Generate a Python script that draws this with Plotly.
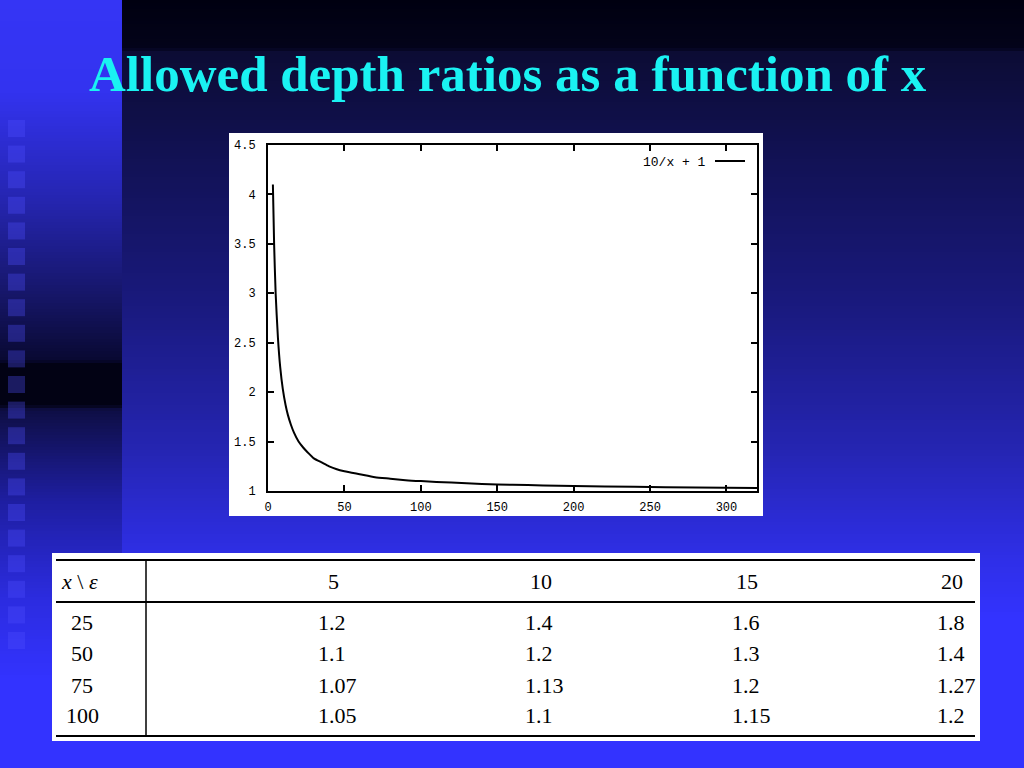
import plotly.graph_objects as go

W, H = 1024, 768

# ---------------- data ----------------
title_text = "Allowed depth ratios as a function of x"

# curve "10/x + 1"
curve_x = [3.2, 4.0, 5.0, 6.5, 8.0, 9.7, 11.5, 13.0, 15.0, 17.0, 20.0, 23.0, 26.0,
           30.0, 35.0, 40.0, 45.0, 50.0, 60.0, 70.0, 80.0, 90.0, 100.0, 120.0,
           140.0, 160.0, 180.0, 200.0, 240.0, 280.0, 320.0]
curve_y = [4.10, 3.50, 3.00, 2.55, 2.25, 2.03, 1.87, 1.77, 1.67, 1.59, 1.50, 1.44,
           1.39, 1.33, 1.29, 1.25, 1.22, 1.20, 1.17, 1.14, 1.125, 1.11, 1.10, 1.085,
           1.07, 1.063, 1.056, 1.05, 1.042, 1.036, 1.031]
legend_label = "10/x + 1"

x_ticks = [0, 50, 100, 150, 200, 250, 300]
y_ticks = [1, 1.5, 2, 2.5, 3, 3.5, 4, 4.5]
y_tick_text = ["1", "1.5", "2", "2.5", "3", "3.5", "4", "4.5"]
x_range = [0, 320]
y_range = [1, 4.5]

# table
eps_values = ["5", "10", "15", "20"]
x_values = ["25", "50", "75", "100"]
ratio_rows = [
    ["1.2", "1.4", "1.6", "1.8"],
    ["1.1", "1.2", "1.3", "1.4"],
    ["1.07", "1.13", "1.2", "1.27"],
    ["1.05", "1.1", "1.15", "1.2"],
]

# ---------------- helpers ----------------
def fx(p):
    return p / W


def fy(p):
    return 1 - p / H


def interp(stops, y):
    for (y0, c0), (y1, c1) in zip(stops[:-1], stops[1:]):
        if y0 <= y <= y1:
            t = 0 if y1 == y0 else (y - y0) / (y1 - y0)
            return "rgb(%d,%d,%d)" % tuple(round(a + (b - a) * t) for a, b in zip(c0, c1))
    return "rgb(%d,%d,%d)" % stops[-1][1]


right_stops = [(0, (0, 0, 16)), (48, (3, 3, 26)), (52, (12, 12, 52)), (150, (17, 17, 82)),
               (300, (25, 25, 124)), (450, (37, 37, 178)), (560, (47, 47, 232)),
               (620, (51, 51, 255)), (768, (51, 51, 255))]
left_stops = [(0, (53, 53, 245)), (90, (51, 51, 240)), (200, (37, 37, 176)),
              (300, (21, 21, 100)), (360, (9, 9, 50)), (364, (2, 2, 20)),
              (405, (2, 2, 20)), (410, (14, 14, 68)), (500, (30, 30, 160)),
              (600, (44, 44, 224)), (680, (51, 51, 255)), (768, (51, 51, 255))]

shapes = []
step = 3
for y in range(0, H, step):
    shapes.append(dict(type="rect", xref="paper", yref="paper", layer="below",
                       x0=fx(122), x1=1, y0=fy(y + step + 0.5), y1=fy(y),
                       fillcolor=interp(right_stops, y + step / 2), line_width=0))
    shapes.append(dict(type="rect", xref="paper", yref="paper", layer="below",
                       x0=0, x1=fx(122), y0=fy(y + step + 0.5), y1=fy(y),
                       fillcolor=interp(left_stops, y + step / 2), line_width=0))

# decorative squares on the left strip
for k in range(21):
    y0 = 120 + 25.6 * k
    shapes.append(dict(type="rect", xref="paper", yref="paper", layer="below",
                       x0=fx(8), x1=fx(25), y0=fy(y0 + 17), y1=fy(y0),
                       fillcolor="rgba(80,80,255,0.33)", line_width=0))

# white backgrounds
shapes.append(dict(type="rect", xref="paper", yref="paper", layer="below",
                   x0=fx(229), x1=fx(763), y0=fy(516), y1=fy(133),
                   fillcolor="white", line_width=0))
shapes.append(dict(type="rect", xref="paper", yref="paper", layer="below",
                   x0=fx(52), x1=fx(980), y0=fy(741), y1=fy(553),
                   fillcolor="white", line_width=0))

# table rules
for yy, lw in [(560, 2), (602, 2), (736, 2)]:
    shapes.append(dict(type="line", xref="paper", yref="paper", layer="above",
                       x0=fx(56), x1=fx(975), y0=fy(yy), y1=fy(yy),
                       line=dict(color="black", width=lw)))
shapes.append(dict(type="line", xref="paper", yref="paper", layer="above",
                   x0=fx(146), x1=fx(146), y0=fy(560), y1=fy(736),
                   line=dict(color="black", width=1.5)))

# legend sample line
shapes.append(dict(type="line", xref="paper", yref="paper", layer="above",
                   x0=fx(715), x1=fx(745), y0=fy(161), y1=fy(161),
                   line=dict(color="black", width=2)))

annotations = []
annotations.append(dict(text="<b>" + title_text + "</b>", xref="paper", yref="paper",
                        x=fx(508), y=fy(74), xanchor="center", yanchor="middle",
                        showarrow=False,
                        font=dict(family="Liberation Serif", size=51, color="#1af2f2")))
annotations.append(dict(text=legend_label, xref="paper", yref="paper",
                        x=fx(708), y=fy(162), xanchor="right", yanchor="middle",
                        showarrow=False,
                        font=dict(family="Liberation Mono", size=13, color="black")))

# table text
tfont = dict(family="Liberation Serif", size=22, color="black")
header_y = 581
row_y = [622, 653, 685, 715]
col_header_x = [333, 541, 747, 952]
col_value_left = [316, 523, 730, 935]
annotations.append(dict(text="<i>x</i> \\ <i>ε</i>", xref="paper", yref="paper",
                        x=fx(59), y=fy(header_y), xanchor="left", yanchor="middle",
                        showarrow=False, font=tfont))
for cx, lab in zip(col_header_x, eps_values):
    annotations.append(dict(text=lab, xref="paper", yref="paper", x=fx(cx), y=fy(header_y),
                            xanchor="center", yanchor="middle", showarrow=False, font=tfont))
for ry, lab, row in zip(row_y, x_values, ratio_rows):
    annotations.append(dict(text=lab, xref="paper", yref="paper", x=fx(82), y=fy(ry),
                            xanchor="center", yanchor="middle", showarrow=False, font=tfont))
    for lx, v in zip(col_value_left, row):
        annotations.append(dict(text=v, xref="paper", yref="paper", x=fx(lx), y=fy(ry),
                                xanchor="left", yanchor="middle", showarrow=False, font=tfont))

fig = go.Figure()
fig.add_trace(go.Scatter(x=curve_x, y=curve_y, mode="lines", name=legend_label,
                         line=dict(color="black", width=2, shape="spline", smoothing=0.6),
                         showlegend=False, hoverinfo="skip"))

tickfont = dict(family="Liberation Mono", size=12, color="black")
fig.update_layout(
    width=W, height=H, margin=dict(l=0, r=0, t=0, b=0, pad=0, autoexpand=False),
    paper_bgcolor="#000010", plot_bgcolor="white",
    shapes=shapes, annotations=annotations, showlegend=False,
    xaxis=dict(domain=[fx(268), fx(757)], range=x_range, tickvals=x_ticks,
               ticks="inside", ticklen=6, tickwidth=2, tickcolor="black",
               showline=True, linecolor="black", linewidth=2, mirror="ticks",
               showgrid=False, zeroline=False, tickfont=tickfont,
               ticklabelstandoff=4, automargin=False),
    yaxis=dict(domain=[fy(491), fy(145)], range=y_range, tickvals=y_ticks,
               ticktext=y_tick_text,
               ticks="inside", ticklen=6, tickwidth=2, tickcolor="black",
               showline=True, linecolor="black", linewidth=2, mirror="ticks",
               showgrid=False, zeroline=False, tickfont=tickfont,
               ticklabelstandoff=8, automargin=False),
)

fig.write_html("out.html", config={"displayModeBar": False, "responsive": False},
               post_script="document.body.style.margin='0';"
                           "document.body.style.padding='0';"
                           "document.documentElement.style.background='#000010';")
